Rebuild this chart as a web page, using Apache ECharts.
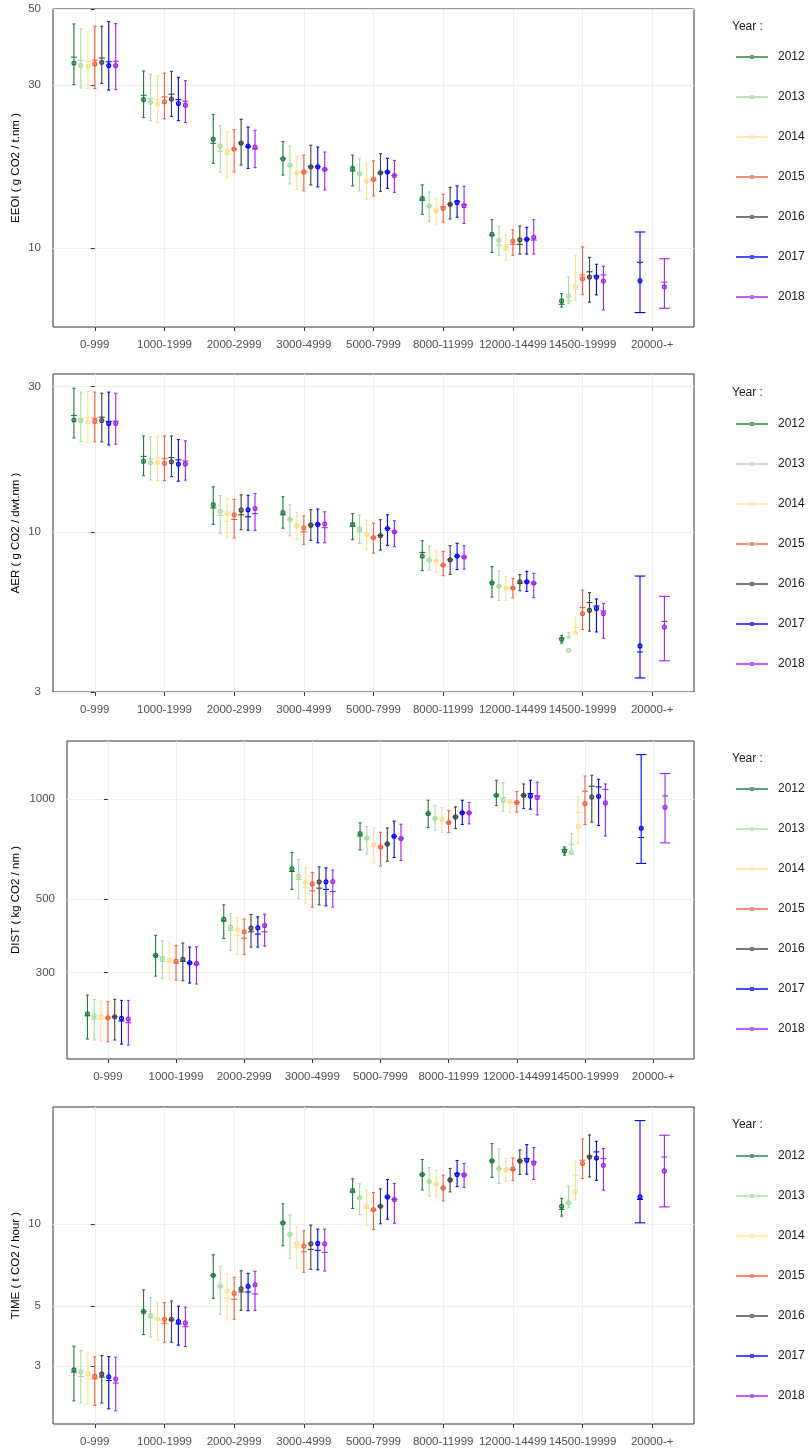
<!DOCTYPE html>
<html><head><meta charset="utf-8">
<script src="https://cdn.jsdelivr.net/npm/echarts@6/dist/echarts.min.js"></script>
<style>html,body{margin:0;padding:0;background:#fff}#c{width:808px;height:1452px}</style>
</head><body><div id="c"></div>
<script>
const categories = ['0-999','1000-1999','2000-2999','3000-4999','5000-7999','8000-11999','12000-14499','14500-19999','20000-+'];
const years = ['2012','2013','2014','2015','2016','2017','2018'];
const colors = ['#1b7a3a','#a8dca0','#fee08b','#f4603a','#404040','#0000ff','#a020f0'];

// Tick labels of each panel's y axis
const eeoiTicks = [10, 30, 50];
const aerTicks = [3, 10, 30];
const distTicks = [300, 500, 1000];
const timeTicks = [3, 5, 10];

// rows = years 2012..2018, columns = categories
const eeoiHigh = [
 [45.3,33.0,24.6,20.5,18.7,15.3,12.1,7.35,null],
 [43.8,32.2,22.8,19.85,18.3,14.6,11.57,8.22,null],
 [42.9,31.9,21.95,18.6,17.7,13.98,10.94,9.52,null],
 [44.6,32.5,22.2,18.7,18.0,14.36,11.3,10.07,null],
 [44.6,32.9,23.8,20.0,18.9,15.05,11.6,9.39,null],
 [46.0,31.6,22.6,19.75,18.3,15.2,11.5,8.96,11.14],
 [45.4,30.9,22.1,19.1,18.05,15.15,12.1,8.84,9.3]];
const eeoiLow = [
 [30.1,24.1,17.7,16.35,15.2,12.55,9.71,6.72,null],
 [29.4,23.6,16.65,15.4,14.7,11.97,9.52,6.89,null],
 [29.3,23.3,16.1,14.85,13.9,11.75,9.22,7.03,null],
 [29.3,23.9,16.7,14.7,14.2,11.9,9.52,7.32,null],
 [30.3,24.3,17.5,15.3,14.65,12.16,9.6,6.94,null],
 [29.0,23.6,17.1,15.1,14.95,12.3,9.6,7.29,6.47],
 [29.1,23.3,17.2,14.8,14.55,11.8,9.6,6.59,6.66]];
const eeoiPoint = [
 [34.8,27.2,20.8,18.25,17.1,13.95,10.97,7.0,null],
 [34.3,26.7,19.9,17.5,16.5,13.27,10.53,7.25,null],
 [34.1,26.3,19.2,16.6,15.7,12.86,10.09,7.67,null],
 [34.6,26.8,19.5,16.7,15.9,13.07,10.48,8.13,null],
 [35.0,27.3,20.3,17.3,16.6,13.42,10.57,8.22,null],
 [34.2,26.5,19.9,17.3,16.7,13.6,10.6,8.22,8.02],
 [34.2,26.2,19.75,17.0,16.3,13.3,10.75,8.0,7.7]];
const eeoiMid = [
 [36.2,28.0,20.25,18.25,16.8,13.8,10.9,6.84,null],
 [35.4,27.4,19.2,17.4,16.5,13.27,10.2,7.0,null],
 [35.2,27.2,18.8,16.6,15.7,12.86,9.87,7.78,null],
 [35.5,27.7,19.5,16.7,15.8,13.2,10.25,8.34,null],
 [36.0,28.2,20.3,17.3,16.6,13.42,10.25,8.52,null],
 [35.1,27.2,19.8,17.3,16.7,13.7,10.6,8.28,9.08],
 [35.2,26.9,19.5,17.0,16.3,13.42,10.55,8.34,7.94]];

const aerHigh = [
 [29.6,20.65,14.07,13.05,11.5,9.37,7.71,4.59,null],
 [28.75,20.5,13.18,12.3,11.36,9.0,7.46,4.69,null],
 [28.9,20.6,12.9,11.6,10.94,8.73,7.17,5.25,null],
 [28.75,20.65,12.8,11.3,10.7,8.65,7.05,6.46,null],
 [28.5,20.65,13.25,11.84,10.98,9.03,7.26,6.34,null],
 [28.75,20.1,13.2,11.9,11.4,9.19,7.44,6.04,7.18],
 [28.5,19.9,13.38,11.66,10.9,9.03,7.33,5.83,6.16]];
const aerLow = [
 [20.35,15.3,10.6,10.3,9.45,7.48,6.13,4.33,null],
 [19.8,14.83,9.9,9.73,9.19,7.51,5.97,4.49,null],
 [19.6,14.75,9.6,9.45,8.76,7.4,5.97,4.69,null],
 [19.75,14.75,9.56,9.1,8.54,7.2,6.1,4.8,null],
 [19.75,15.2,10.18,9.4,8.73,7.27,6.43,4.74,null],
 [19.3,14.68,10.15,9.23,9.05,7.54,6.39,4.71,3.33],
 [19.4,14.8,10.13,9.23,8.96,7.57,6.1,4.49,3.79]];
const aerPoint = [
 [23.3,17.06,12.3,11.6,10.6,8.35,6.83,4.46,null],
 [23.2,16.86,11.7,11.0,10.26,8.1,6.65,4.1,null],
 [22.9,16.86,11.5,10.5,9.83,8.04,6.56,4.69,null],
 [23.05,16.8,11.4,10.34,9.6,7.8,6.56,5.41,null],
 [23.2,17.0,11.8,10.54,9.75,8.12,6.88,5.55,null],
 [22.7,16.7,11.84,10.6,10.28,8.35,6.88,5.62,4.24],
 [22.7,16.7,11.95,10.65,10.03,8.29,6.81,5.41,4.89]];
const aerMid = [
 [24.1,17.7,12.0,11.4,10.44,8.58,6.83,4.49,null],
 [23.5,17.4,11.34,11.0,10.03,8.1,6.65,4.54,null],
 [23.7,17.5,10.86,10.5,9.75,8.04,6.56,4.87,null],
 [23.6,17.4,11.0,10.03,9.6,7.8,6.56,5.66,null],
 [23.8,17.55,11.4,10.54,9.75,8.12,6.8,5.88,null],
 [23.05,17.25,11.23,10.6,10.28,8.35,6.88,5.73,4.05],
 [23.1,17.1,11.5,10.34,10.03,8.29,6.81,5.52,5.1]];

const distHigh = [
 [256.8,388.6,480.4,691.0,848.5,993.1,1140.5,718.1,null],
 [249.3,374.3,452.5,658.2,827.6,957.2,1122.6,788.0,null],
 [246.4,369.2,439.0,621.1,819.5,944.1,981.4,1016.0,null],
 [245.2,362.5,435.1,601.6,795.2,924.7,1054.8,1175.2,null],
 [249.3,368.4,449.4,625.4,819.5,948.0,1111.8,1180.8,null],
 [247.5,358.3,442.0,621.1,858.6,993.1,1140.5,1148.6,1363.1],
 [247.5,359.1,450.3,611.3,840.9,977.4,1125.0,1111.8,1195.3]];
const distLow = [
 [189.3,293.0,380.5,534.6,703.5,821.7,957.2,678.3,null],
 [188.0,288.4,350.3,502.1,684.2,806.4,920.1,686.1,null],
 [187.1,286.4,341.3,486.1,642.8,793.5,912.1,735.4,null],
 [185.8,285.0,340.6,472.9,629.6,793.5,914.1,839.1,null],
 [188.0,283.7,358.3,480.4,650.5,815.9,937.5,852.8,null],
 [182.8,279.2,358.3,477.1,667.4,839.1,933.0,833.3,640.2],
 [181.6,277.3,360.7,472.9,653.6,842.6,897.0,775.0,738.5]];
const distPoint = [
 [225.6,338.2,434.2,616.9,788.0,906.0,1028.1,698.6,null],
 [222.5,331.3,411.6,586.4,764.3,874.9,993.1,691.0,null],
 [221.0,327.4,404.0,562.3,731.8,870.6,986.2,829.2,null],
 [219.5,325.1,398.4,555.7,718.1,850.9,977.4,970.6,null],
 [221.0,329.0,408.7,563.5,733.3,884.6,1028.1,1016.0,null],
 [218.6,321.3,409.6,563.5,773.4,909.8,1023.1,1021.0,817.8],
 [217.5,320.0,416.5,565.1,761.2,909.8,1011.9,974.7,946.0]];
const distMid = [
 [222.5,338.2,429.9,605.8,775.0,906.0,1028.1,705.4,null],
 [217.5,324.4,402.3,573.1,764.3,874.9,1011.9,731.8,null],
 [217.5,322.8,388.6,543.1,721.6,870.6,986.2,912.1,null],
 [219.5,320.6,381.3,529.5,718.1,850.9,977.4,1057.1,null],
 [221.0,324.4,398.4,539.4,733.3,884.6,1028.1,1094.3,null],
 [214.5,321.3,392.1,534.6,773.4,909.8,1040.3,1089.0,766.5],
 [212.0,317.8,398.4,527.2,761.2,909.8,1023.1,1069.5,1023.1]];

const timeHigh = [
 [3.556,5.724,7.714,11.87,14.67,17.28,19.78,12.43,null],
 [3.427,5.362,6.994,10.79,14.06,16.15,18.9,13.79,null],
 [3.352,5.141,6.569,9.808,13.33,15.79,17.43,17.03,null],
 [3.249,5.141,6.372,9.449,13.07,15.13,17.51,20.57,null],
 [3.285,5.215,6.738,9.915,13.48,16.02,18.74,21.27,null],
 [3.258,4.987,6.592,9.585,14.59,17.14,19.61,20.17,24.03],
 [3.241,4.945,6.704,9.585,14.11,16.71,19.12,18.96,21.22]];
const timeLow = [
 [2.239,3.924,5.335,8.323,11.42,13.36,14.84,10.7,null],
 [2.202,3.848,4.661,7.483,10.82,12.70,14.11,11.48,null],
 [2.178,3.742,4.442,6.877,9.89,12.59,14.35,12.25,null],
 [2.153,3.679,4.468,6.648,9.56,12.18,14.47,14.72,null],
 [2.197,3.679,4.822,6.819,10.03,13.14,15.22,14.92,null],
 [2.094,3.587,4.805,6.796,10.43,13.75,15.26,14.5,10.11],
 [2.058,3.545,4.822,6.722,10.08,13.64,14.59,13.33,11.57]];
const timePoint = [
 [2.911,4.764,6.481,10.11,13.3,15.22,17.08,11.64,null],
 [2.862,4.607,5.921,9.167,12.53,14.30,16.02,11.97,null],
 [2.814,4.479,5.675,8.466,11.61,14.06,15.88,13.22,null],
 [2.759,4.468,5.567,8.302,11.32,13.59,15.96,16.71,null],
 [2.807,4.468,5.788,8.466,11.64,14.54,17.08,17.66,null],
 [2.744,4.378,5.906,8.494,12.59,15.22,17.18,17.51,12.59],
 [2.691,4.331,5.987,8.466,12.32,15.17,16.79,16.47,15.69]];
const timeMid = [
 [2.855,4.764,6.481,10.11,13.11,15.22,17.08,11.32,null],
 [2.750,4.529,5.921,9.167,12.43,14.30,16.02,11.97,null],
 [2.698,4.442,5.335,8.185,11.48,14.06,15.88,15.13,null],
 [2.698,4.320,5.290,7.911,11.26,13.59,15.88,17.18,null],
 [2.737,4.442,5.628,8.075,11.64,14.54,17.08,17.77,null],
 [2.659,4.294,5.628,8.008,12.59,15.35,17.43,18.43,12.32],
 [2.602,4.198,5.534,7.871,12.32,15.17,16.93,17.43,17.66]];

const L = Math.log10;
const FONT = '"Liberation Sans", Arial, sans-serif';

const panels = [
  {title:'EEOI ( g CO2 / t.nm )', high:eeoiHigh, low:eeoiLow, point:eeoiPoint, mid:eeoiMid, ticks:eeoiTicks,
   min:5.87, max:50.1, grid:{left:53, right:114, top:9, height:318}, nameGap:31, legendTop:46, titleTop:21},
  {title:'AER ( g CO2 / dwt.nm )', high:aerHigh, low:aerLow, point:aerPoint, mid:aerMid, ticks:aerTicks,
   min:2.995, max:32.95, grid:{left:53, right:114, top:374, height:318}, nameGap:31, legendTop:413, titleTop:387},
  {title:'DIST ( kg CO2 / nm )', high:distHigh, low:distLow, point:distPoint, mid:distMid, ticks:distTicks,
   min:164.8, max:1498, grid:{left:67, right:114, top:741, height:318}, nameGap:45, legendTop:778, titleTop:753},
  {title:'TIME ( t CO2 / hour )', high:timeHigh, low:timeLow, point:timePoint, mid:timeMid, ticks:timeTicks,
   min:1.84, max:26.96, grid:{left:53, right:114, top:1107, height:317}, nameGap:31, legendTop:1145, titleTop:1119}
];

const grids = [], xAxes = [], yAxes = [], series = [], legends = [], titles = [];
const catIdx = categories.map((c, i) => i);

panels.forEach((p, pi) => {
  grids.push(Object.assign({show:true, borderColor:'#333', borderWidth:1, backgroundColor:'#fff',
    containLabel:false, outerBoundsMode:'none'}, p.grid));
  xAxes.push({
    type:'value', gridIndex:pi, min:-0.6, max:8.6,
    axisLine:{show:false},
    axisTick:{show:true, length:4, lineStyle:{color:'#333'}, customValues:catIdx},
    axisLabel:{customValues:catIdx, formatter:v => categories[Math.round(v)], fontSize:11.5, color:'#4d4d4d', fontFamily:FONT, margin:12},
    splitLine:{show:true, lineStyle:{color:'#eeeeee', width:1}}
  });
  const tv = p.ticks.map(L);
  yAxes.push({
    type:'value', gridIndex:pi, min:L(p.min), max:L(p.max),
    name:p.title, nameLocation:'middle', nameGap:p.nameGap, nameRotate:90, nameMoveOverlap:false,
    nameTextStyle:{fontSize:11.5, color:'#000', fontFamily:FONT},
    axisLine:{show:false},
    axisTick:{show:true, length:4, lineStyle:{color:'#333'}, customValues:tv},
    axisLabel:{customValues:tv, formatter:v => String(Math.round(Math.pow(10, v))), fontSize:11.5, color:'#4d4d4d', fontFamily:FONT, margin:12},
    splitLine:{show:true, lineStyle:{color:'#eeeeee', width:1}}
  });
  // which years are present in each category (for dodging)
  const present = categories.map((c, i) => years.map((y, j) => j).filter(j => p.low[j][i] != null));
  years.forEach((yr, j) => {
    const data = [];
    categories.forEach((c, i) => {
      if (p.low[j][i] == null) return;
      data.push([i, L(p.low[j][i]), L(p.point[j][i]), L(p.mid[j][i]), L(p.high[j][i])]);
    });
    const col = colors[j];
    series.push({
      type:'custom', name:yr, xAxisIndex:pi, yAxisIndex:pi,
      itemStyle:{color:col},
      encode:{x:0, y:[1,2,3,4]},
      data:data,
      renderItem:(params, api) => {
        const i = api.value(0);
        const pr = present[i];
        const n = pr.length, k = pr.indexOf(j);
        const band = api.size([1, 0])[0];
        const slot = 0.7 / n;
        const off = (k - (n - 1) / 2) * slot * band;
        const x = api.coord([i, api.value(1)])[0] + off;
        const yLo = api.coord([i, api.value(1)])[1];
        const yPt = api.coord([i, api.value(2)])[1];
        const yMd = api.coord([i, api.value(3)])[1];
        const yHi = api.coord([i, api.value(4)])[1];
        const cap = slot * band * 0.22;
        const ls = {stroke:col, lineWidth:1.1};
        return {type:'group', children:[
          {type:'line', shape:{x1:x, y1:yHi, x2:x, y2:yLo}, style:ls},
          {type:'line', shape:{x1:x - cap, y1:yHi, x2:x + cap, y2:yHi}, style:ls},
          {type:'line', shape:{x1:x - cap, y1:yLo, x2:x + cap, y2:yLo}, style:ls},
          {type:'line', shape:{x1:x - 3, y1:yMd, x2:x + 3, y2:yMd}, style:ls},
          {type:'circle', shape:{cx:x, cy:yPt, r:2}, style:{fill:col, fillOpacity:0.5, stroke:col, lineWidth:1.1}}
        ]};
      }
    });
  });
  legends.push({
    data:years, orient:'vertical', left:731, top:p.legendTop,
    itemWidth:32, itemHeight:8, itemGap:28, selectedMode:false,
    icon:'path://M0,3.1L32,3.1L32,4.9L0,4.9Z M14,2L18,2L18,6L14,6Z',
    itemStyle:{opacity:0.7},
    textStyle:{fontSize:12, color:'#1a1a1a', fontFamily:FONT, padding:[0,0,0,5]}
  });
  titles.push({text:'Year :', left:732, top:p.titleTop, padding:0,
    textStyle:{fontSize:12, fontWeight:'normal', color:'#1a1a1a', fontFamily:FONT}});
});

const chart = echarts.init(document.getElementById('c'), null, {renderer:'canvas'});
chart.setOption({
  animation:false,
  backgroundColor:'#fff',
  title:titles, legend:legends, grid:grids, xAxis:xAxes, yAxis:yAxes, series:series
});
</script></body></html>
